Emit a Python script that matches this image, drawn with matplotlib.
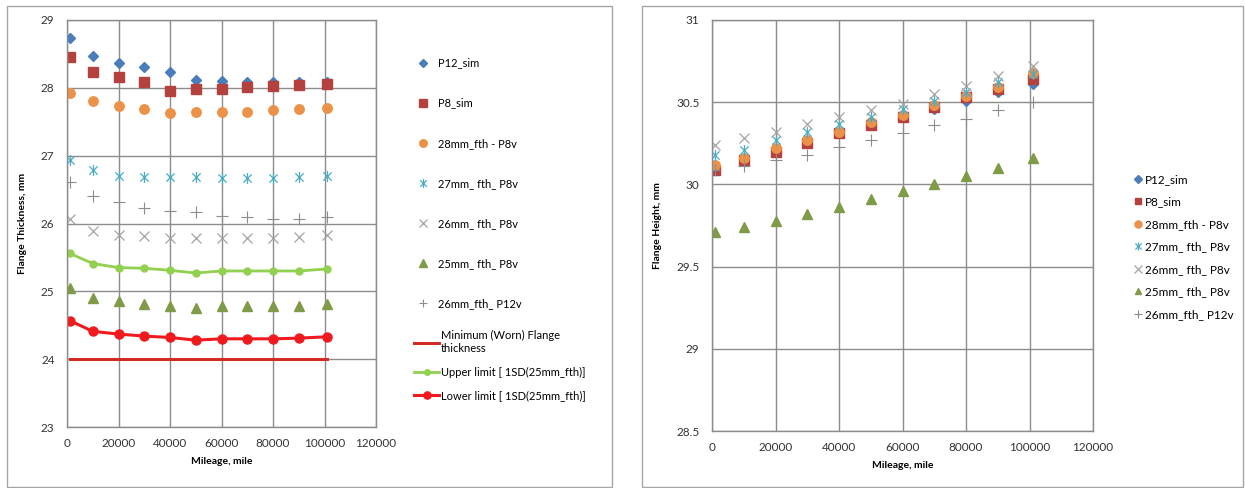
import matplotlib
matplotlib.use("Agg")
import matplotlib.pyplot as plt
from matplotlib.path import Path
from matplotlib.patches import Rectangle

plt.rcParams['font.family'] = ['Lato', 'DejaVu Sans']

# === DADOS ===
mileage = [1000, 10000, 20000, 30000, 40000, 50000, 60000, 70000, 80000, 90000, 101000]

# Flange thickness (left chart)
th_p12_sim = [28.74, 28.47, 28.37, 28.30, 28.24, 28.12, 28.10, 28.09, 28.09, 28.09, 28.09]
th_p8_sim = [28.45, 28.24, 28.16, 28.08, 27.95, 27.98, 27.99, 28.01, 28.03, 28.04, 28.06]
th_28_p8v = [27.92, 27.80, 27.73, 27.69, 27.63, 27.65, 27.64, 27.64, 27.68, 27.69, 27.71]
th_27_p8v = [26.94, 26.79, 26.70, 26.69, 26.68, 26.68, 26.67, 26.67, 26.67, 26.68, 26.70]
th_26_p8v = [26.06, 25.89, 25.83, 25.81, 25.79, 25.79, 25.79, 25.79, 25.79, 25.80, 25.83]
th_25_p8v = [25.05, 24.90, 24.86, 24.82, 24.79, 24.76, 24.78, 24.78, 24.78, 24.78, 24.81]
th_26_p12v = [26.61, 26.41, 26.31, 26.23, 26.19, 26.17, 26.11, 26.10, 26.07, 26.07, 26.09]
min_x = [1000, 101000]
min_thickness = [24.0, 24.0]
upper_limit = [25.56, 25.41, 25.35, 25.34, 25.31, 25.27, 25.30, 25.30, 25.30, 25.30, 25.33]
lower_limit = [24.57, 24.41, 24.37, 24.34, 24.32, 24.28, 24.30, 24.30, 24.30, 24.31, 24.33]

# Flange height (right chart)
h_p12_sim = [30.09, 30.15, 30.20, 30.26, 30.31, 30.36, 30.42, 30.46, 30.51, 30.56, 30.61]
h_p8_sim = [30.09, 30.15, 30.20, 30.25, 30.31, 30.36, 30.41, 30.47, 30.53, 30.58, 30.64]
h_28_p8v = [30.12, 30.16, 30.22, 30.27, 30.32, 30.38, 30.42, 30.48, 30.54, 30.59, 30.68]
h_27_p8v = [30.18, 30.21, 30.27, 30.32, 30.37, 30.41, 30.46, 30.51, 30.56, 30.62, 30.67]
h_26_p8v = [30.24, 30.28, 30.32, 30.37, 30.41, 30.45, 30.49, 30.55, 30.60, 30.66, 30.72]
h_25_p8v = [29.71, 29.74, 29.78, 29.82, 29.86, 29.91, 29.96, 30.00, 30.05, 30.10, 30.16]
h_26_p12v = [30.09, 30.11, 30.15, 30.18, 30.23, 30.27, 30.31, 30.36, 30.40, 30.45, 30.50]

labels = ['P12_sim', 'P8_sim', '28mm_fth - P8v', '27mm_ fth_ P8v',
          '26mm_ fth_ P8v', '25mm_ fth_ P8v', '26mm_fth_ P12v']

# === ESTILOS ===
star = Path([(0, -1), (0, 1), (-0.75, -0.75), (0.75, 0.75), (-0.75, 0.75), (0.75, -0.75)],
            [Path.MOVETO, Path.LINETO, Path.MOVETO, Path.LINETO, Path.MOVETO, Path.LINETO])
styles = [
    dict(marker='D', color='#4A7EBB', ms=5.0, mec='#4A7EBB'),
    dict(marker='s', color='#B5413F', ms=6.5, mec='#B5413F'),
    dict(marker='o', color='#EB9248', ms=6.8, mec='#EB9248'),
    dict(marker=star, color='#4BACC6', ms=8, mew=0.9, mfc='none'),
    dict(marker='x', color='#A3A3A3', ms=7.5, mew=0.9),
    dict(marker='^', color='#7F9B48', ms=6.5, mec='#7F9B48'),
    dict(marker='+', color='#8C8C8C', ms=8, mew=0.8),
]
GRID = '#8C8C8C'

fig = plt.figure(figsize=(12.45, 4.88), dpi=100)

# outer chart frames
for x0, x1 in [(7, 612), (642, 1243)]:
    fig.patches.append(Rectangle((x0 / 1245, 1 / 488), (x1 - x0) / 1245, 481 / 488,
                                 transform=fig.transFigure, fill=False,
                                 edgecolor='#A6A6A6', linewidth=1))


def style_axes(ax):
    ax.grid(True, color=GRID, linewidth=1)
    ax.set_axisbelow(True)
    for s in ax.spines.values():
        s.set_color(GRID)
        s.set_linewidth(1)
    ax.tick_params(length=0, labelsize=8.5, colors='#333333')
    ax.tick_params(axis='x', pad=8)
    ax.tick_params(axis='y', pad=9)
    ax.set_xlim(0, 120000)
    ax.set_xticks(range(0, 120001, 20000))
    ax.set_xlabel('Mileage, mile', fontsize=7.5, fontweight='bold', labelpad=6)


# === GRÁFICO ESQUERDO ===
ax1 = fig.add_axes([67 / 1245, 1 - 427 / 488, 309 / 1245, 407 / 488])
style_axes(ax1)
ax1.set_ylim(23, 29)
ax1.set_yticks(range(23, 30))
ax1.set_ylabel('Flange Thickness, mm', fontsize=7.5, fontweight='bold', labelpad=10)

series_th = [th_p12_sim, th_p8_sim, th_28_p8v, th_27_p8v, th_26_p8v, th_25_p8v, th_26_p12v]
handles1 = []
for ys, lab, st in zip(series_th, labels, styles):
    h, = ax1.plot(mileage, ys, linestyle='none', label=lab, **st)
    handles1.append(h)

l_min, = ax1.plot(min_x, min_thickness, color='#D42A26', linewidth=2.2,
                  label='Minimum (Worn) Flange\nthickness')
l_up, = ax1.plot(mileage, upper_limit, color='#92D050', linewidth=2, marker='o', ms=5,
                 label='Upper limit [ 1SD(25mm_fth)]')
l_low, = ax1.plot(mileage, lower_limit, color='#F01A1E', linewidth=2.2, marker='o', ms=6.5,
                  label='Lower limit [ 1SD(25mm_fth)]')

leg1 = fig.legend(handles=handles1, loc='upper left', bbox_to_anchor=(412 / 1245, 1 - 53 / 488),
                  frameon=False, fontsize=8, labelspacing=2.62, handlelength=1.2,
                  handletextpad=0.7, borderaxespad=0, markerscale=0.8)
leg2 = fig.legend(handles=[l_min, l_up, l_low], loc='upper left',
                  bbox_to_anchor=(410 / 1245, 1 - 326 / 488),
                  frameon=False, fontsize=8, labelspacing=1.1, handlelength=2.2,
                  handletextpad=0.2, borderaxespad=0, markerscale=0.8)

# === GRÁFICO DIREITO ===
ax2 = fig.add_axes([712 / 1245, 1 - 431 / 488, 381 / 1245, 411 / 488])
style_axes(ax2)
ax2.set_ylim(28.5, 31)
ax2.set_yticks([28.5, 29, 29.5, 30, 30.5, 31])
ax2.set_yticklabels(['28.5', '29', '29.5', '30', '30.5', '31'])
ax2.set_ylabel('Flange Height, mm', fontsize=7.5, fontweight='bold', labelpad=10)

series_h = [h_p12_sim, h_p8_sim, h_28_p8v, h_27_p8v, h_26_p8v, h_25_p8v, h_26_p12v]
handles2 = []
for ys, lab, st in zip(series_h, labels, styles):
    h, = ax2.plot(mileage, ys, linestyle='none', label=lab, **st)
    handles2.append(h)

fig.legend(handles=handles2, loc='upper left', bbox_to_anchor=(1129 / 1245, 1 - 169 / 488),
           frameon=False, fontsize=8.5, labelspacing=0.98, handlelength=0.8,
           handletextpad=0.15, borderaxespad=0, markerscale=0.75)

fig.savefig('out.png', dpi=100)
